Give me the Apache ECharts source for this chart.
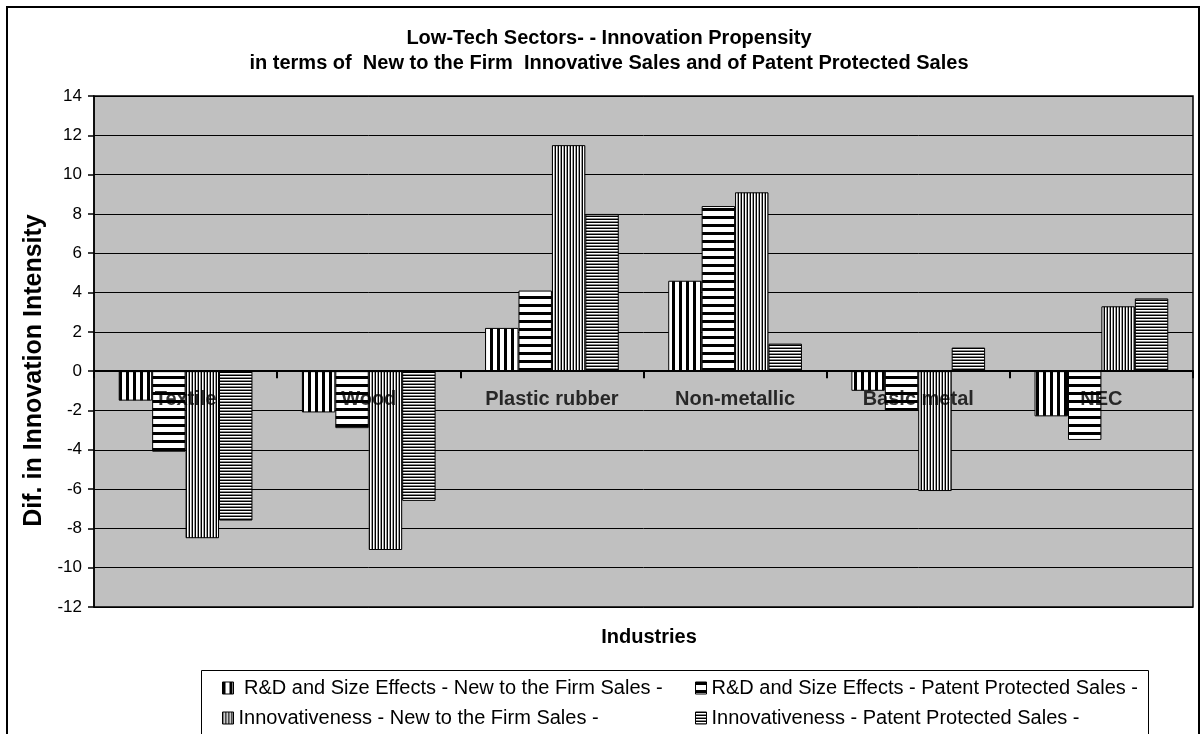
<!DOCTYPE html>
<html>
<head>
<meta charset="utf-8">
<script src="https://cdn.jsdelivr.net/npm/echarts@6/dist/echarts.min.js"></script>
<style>
  html, body { margin: 0; padding: 0; background: #fff; }
  #chart { width: 1203px; height: 734px; }
</style>
</head>
<body>
<div id="chart"></div>
<script>
const industries = ["Textile", "Wood", "Plastic rubber", "Non-metallic", "Basic metal", "NEC"];
const seriesNames = [
  " R&D and Size Effects - New to the Firm Sales -",
  "R&D and Size Effects - Patent Protected Sales -",
  "Innovativeness - New to the Firm Sales -",
  "Innovativeness - Patent Protected Sales -"
];
const rdNewFirm = [-1.5, -2.1, 2.2, 4.6, -1.0, -2.3];
const rdPatent = [-4.1, -2.9, 4.1, 8.4, -2.0, -3.5];
const innovNewFirm = [-8.5, -9.1, 11.5, 9.1, -6.1, 3.3];
const innovPatent = [-7.6, -6.6, 8.0, 1.4, 1.2, 3.7];
const yTicks = [-12, -10, -8, -6, -4, -2, 0, 2, 4, 6, 8, 10, 12, 14];

const font = "'Liberation Sans', Arial, sans-serif";

// stripe patterns (colors listed per pixel row/column)
function stripes(cols, vertical) {
  const c = document.createElement("canvas");
  c.width = vertical ? cols.length : 1;
  c.height = vertical ? 1 : cols.length;
  const ctx = c.getContext("2d");
  cols.forEach((col, i) => {
    ctx.fillStyle = col;
    if (vertical) ctx.fillRect(i, 0, 1, 1);
    else ctx.fillRect(0, i, 1, 1);
  });
  return { image: c, repeat: "repeat" };
}

const patterns = [
  stripes(["#000", "#000", "#000", "#fff", "#fff", "#fff", "#fff"], true),
  stripes(["#000", "#000", "#000", "#fff", "#fff", "#fff", "#fff", "#fff"], false),
  stripes(["#000", "#fff", "#999"], true),
  stripes(["#000", "#fff", "#888"], false)
];
const values = [rdNewFirm, rdPatent, innovNewFirm, innovPatent];

const chart = echarts.init(document.getElementById("chart"));

const legendBase = {
  orient: "vertical",
  top: 673,
  icon: "rect",
  itemWidth: 11,
  itemHeight: 12,
  itemGap: 10,
  itemStyle: { borderColor: "#000", borderWidth: 1 },
  textStyle: { fontFamily: font, fontSize: 20, color: "#000" }
};

const option = {
  animation: false,
  backgroundColor: "#fff",
  textStyle: { fontFamily: font },
  title: [
    {
      text: "Low-Tech Sectors- - Innovation Propensity\nin terms of  New to the Firm  Innovative Sales and of Patent Protected Sales",
      left: 604,
      top: 21,
      textAlign: "center",
      textStyle: { fontFamily: font, fontSize: 20, fontWeight: "bold", color: "#000", lineHeight: 25 }
    },
    {
      text: "Industries",
      left: 644,
      top: 622,
      textAlign: "center",
      textStyle: { fontFamily: font, fontSize: 20, fontWeight: "bold", color: "#000" }
    }
  ],
  legend: [
    Object.assign({}, legendBase, { data: [seriesNames[0], seriesNames[2]], left: 217 }),
    Object.assign({}, legendBase, { data: [seriesNames[1], seriesNames[3]], left: 690 })
  ],
  graphic: [
    {
      type: "rect",
      shape: { x: 7, y: 7, width: 1192, height: 760 },
      style: { fill: null, stroke: "#000", lineWidth: 2 },
      silent: true,
      z: -1
    },
    {
      type: "rect",
      shape: { x: 201.5, y: 670.5, width: 947, height: 80 },
      style: { fill: "#fff", stroke: "#000", lineWidth: 1 },
      silent: true,
      z: -1
    }
  ],
  grid: {
    left: 94,
    top: 96,
    right: 10,
    bottom: 127,
    show: true,
    backgroundColor: "#c0c0c0",
    borderColor: "#000",
    borderWidth: 1.5
  },
  xAxis: {
    type: "category",
    data: industries,
    z: 10,
    axisLine: { onZero: true, lineStyle: { color: "#000", width: 2 } },
    axisTick: { show: true, length: 7, lineStyle: { color: "#000", width: 2 } },
    axisLabel: { show: false },
    splitLine: { show: false }
  },
  yAxis: {
    type: "value",
    min: -12,
    max: 14,
    interval: 2,
    name: "Dif. in Innovation Intensity",
    nameLocation: "middle",
    nameGap: 31,
    nameTextStyle: {
      fontFamily: font,
      fontSize: 25,
      fontWeight: "bold",
      color: "#000",
      padding: [0, 38, 0, 0]
    },
    axisLine: { show: true, lineStyle: { color: "#000", width: 1.5 } },
    axisTick: { show: true, length: 6, lineStyle: { color: "#000", width: 1.5 } },
    axisLabel: {
      fontFamily: font,
      fontSize: 17,
      color: "#000",
      margin: 12,
      formatter: v => (yTicks.includes(v) ? String(v) : "")
    },
    splitLine: { show: true, lineStyle: { color: "#000", width: 1 } }
  },
  series: values.map((data, i) => ({
    name: seriesNames[i],
    type: "bar",
    data: data,
    barGap: "0%",
    barCategoryGap: "27%",
    itemStyle: { color: patterns[i], borderColor: "#000", borderWidth: 1 }
  })).concat([
    {
      // category names written just under the zero line, over the bars
      type: "scatter",
      data: industries.map(name => [name, 0]),
      symbolSize: 1,
      itemStyle: { color: "rgba(0,0,0,0)" },
      silent: true,
      z: 10,
      label: {
        show: true,
        position: "bottom",
        distance: 18,
        formatter: p => p.value[0],
        fontFamily: font,
        fontSize: 20,
        fontWeight: "bold",
        color: "#000"
      }
    }
  ])
};

chart.setOption(option);
</script>
</body>
</html>
